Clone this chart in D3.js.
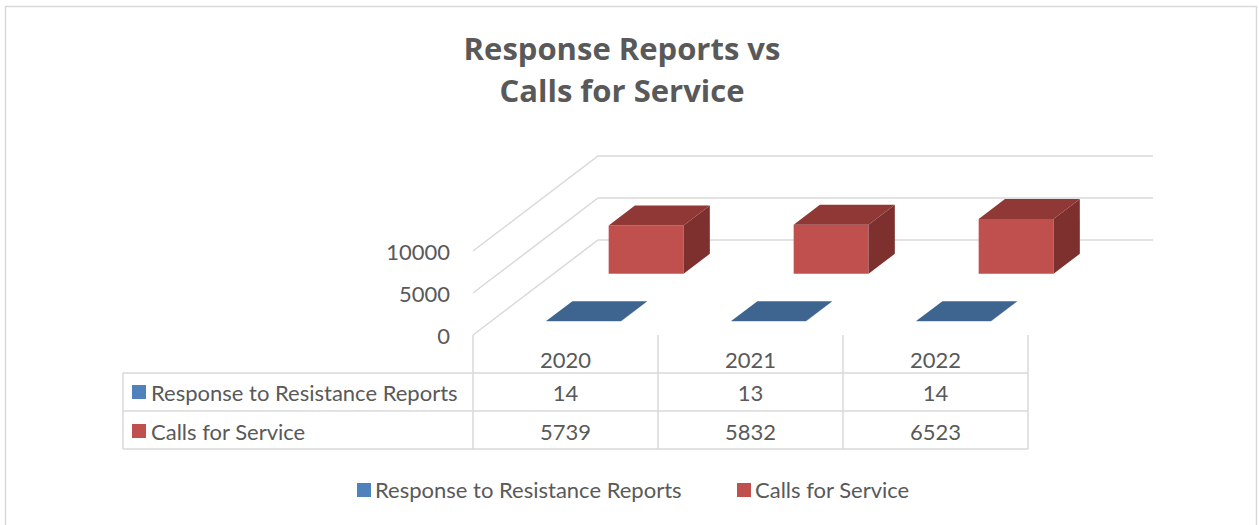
<!DOCTYPE html>
<html>
<head>
<meta charset="utf-8">
<script src="https://cdn.jsdelivr.net/npm/d3@7"></script>
<style>
    html, body { margin: 0; padding: 0; background: #fff; }
    svg text { font-family: Lato, "Open Sans", sans-serif; fill: #595959; }
</style>
</head>
<body>
<div id="chart"></div>
<script>
const years = ['2020', '2021', '2022'];
const seriesNames = ['Response to Resistance Reports', 'Calls for Service'];
const responseReports = [14, 13, 14];
const callsForService = [5739, 5832, 6523];
const yTicks = [0, 5000, 10000];
const seriesColors = ['#4F81BD', '#C0504D'];

const width = 1259, height = 525;

const svg = d3.select('#chart')
    .append('svg')
    .attr('width', width)
    .attr('height', height);

// outer chart border
svg.append('rect')
    .attr('x', 5.5).attr('y', 6.5)
    .attr('width', 1251).attr('height', 540)
    .attr('fill', 'none')
    .attr('stroke', '#D9D9D9')
    .attr('stroke-width', 1.5);

// title
const title = svg.append('text')
    .attr('text-anchor', 'middle')
    .style('font-family', '"Open Sans", sans-serif')
    .style('font-size', '31px')
    .style('font-weight', 'bold');
title.append('tspan').attr('x', 622).attr('y', 60).text('Response Reports vs');
title.append('tspan').attr('x', 622).attr('y', 102).text('Calls for Service');

// scales: x = category, y = value (front plane), z = depth (0 front -> 1 back)
const x = d3.scaleBand().domain(years).range([473, 1028]);
const y = d3.scaleLinear().domain([0, 10000]).range([335, 251]);
const z = d3.scaleBand().domain(seriesNames).range([0, 1]).paddingInner(0.58).paddingOuter(0.29);
const depthX = 125, depthY = -95;   // projection of full depth
const barW = x.bandwidth() * 0.405;

function pt(px, py, pz) {
    return [px + pz * depthX, py + pz * depthY];
}

const grid = svg.append('g')
    .attr('stroke', '#D9D9D9')
    .attr('stroke-width', 1.5)
    .attr('fill', 'none');

// side wall diagonals + back wall gridlines
yTicks.forEach(t => {
    const front = pt(x.range()[0], y(t), 0);
    const back = pt(x.range()[0], y(t), 1);
    const backRight = pt(x.range()[1], y(t), 1);
    grid.append('path')
        .attr('d', d3.line()([front, back, backRight]));
});

// y axis labels
svg.append('g')
    .selectAll('text')
    .data(yTicks)
    .join('text')
    .attr('x', 450)
    .attr('y', d => y(d) + 1)
    .attr('dy', '0.35em')
    .attr('text-anchor', 'end')
    .style('font-size', '22px')
    .text(d => d);

// bars, back series first
const seriesData = [
    { name: seriesNames[0], values: responseReports, front: '#4F81BD', top: '#3E6490', side: '#33547A' },
    { name: seriesNames[1], values: callsForService, front: '#C0504D', top: '#8F3836', side: '#7D302E' }
];

const bars = svg.append('g');
seriesData.slice().reverse().forEach(s => {
    const z0 = z(s.name), z1 = z0 + z.bandwidth();
    s.values.forEach((v, i) => {
        const x0 = x(years[i]) + (x.bandwidth() - barW) / 2;
        const x1 = x0 + barW;
        const yb = y(0), yt = y(v);
        const g = bars.append('g');
        // front face
        g.append('path')
            .attr('d', d3.line()([pt(x0, yt, z0), pt(x1, yt, z0), pt(x1, yb, z0), pt(x0, yb, z0)]) + 'Z')
            .attr('fill', s.front);
        // right side
        g.append('path')
            .attr('d', d3.line()([pt(x1, yt, z0), pt(x1, yt, z1), pt(x1, yb, z1), pt(x1, yb, z0)]) + 'Z')
            .attr('fill', s.side);
        // top face
        g.append('path')
            .attr('d', d3.line()([pt(x0, yt, z0), pt(x0, yt, z1), pt(x1, yt, z1), pt(x1, yt, z0)]) + 'Z')
            .attr('fill', s.top);
    });
});

// data table
const tableLeft = 123, rowTops = [373, 411, 449];
const table = svg.append('g')
    .attr('stroke', '#D9D9D9')
    .attr('stroke-width', 1.5);

rowTops.forEach(ry => {
    table.append('line')
        .attr('x1', tableLeft).attr('x2', x.range()[1])
        .attr('y1', ry).attr('y2', ry);
});
table.append('line')
    .attr('x1', tableLeft).attr('x2', tableLeft)
    .attr('y1', rowTops[0]).attr('y2', rowTops[2]);
[...years.map(d => x(d)), x.range()[1]].forEach(cx => {
    table.append('line')
        .attr('x1', cx).attr('x2', cx)
        .attr('y1', y(0)).attr('y2', rowTops[2]);
});

// year headers
svg.append('g')
    .selectAll('text')
    .data(years)
    .join('text')
    .attr('x', d => x(d) + x.bandwidth() / 2)
    .attr('y', 360)
    .attr('dy', '0.35em')
    .attr('text-anchor', 'middle')
    .style('font-size', '22px')
    .text(d => d);

// table rows
const rowMid = [393, 432];
seriesData.forEach((s, r) => {
    const row = svg.append('g');
    row.append('rect')
        .attr('x', 132).attr('y', rowMid[r] - 8)
        .attr('width', 14).attr('height', 14)
        .attr('fill', seriesColors[r]);
    row.append('text')
        .attr('x', 151).attr('y', rowMid[r])
        .attr('dy', '0.35em')
        .style('font-size', '22px')
        .text(s.name);
    row.selectAll('text.val')
        .data(s.values)
        .join('text')
        .attr('class', 'val')
        .attr('x', (d, i) => x(years[i]) + x.bandwidth() / 2)
        .attr('y', rowMid[r])
        .attr('dy', '0.35em')
        .attr('text-anchor', 'middle')
        .style('font-size', '22px')
        .text(d => d);
});

// bottom legend
const legendX = [357, 737];
const legend = svg.append('g');
seriesNames.forEach((name, i) => {
    legend.append('rect')
        .attr('x', legendX[i]).attr('y', 483)
        .attr('width', 14).attr('height', 14)
        .attr('fill', seriesColors[i]);
    legend.append('text')
        .attr('x', legendX[i] + 18).attr('y', 490)
        .attr('dy', '0.35em')
        .style('font-size', '22px')
        .text(name);
});
</script>
</body>
</html>
